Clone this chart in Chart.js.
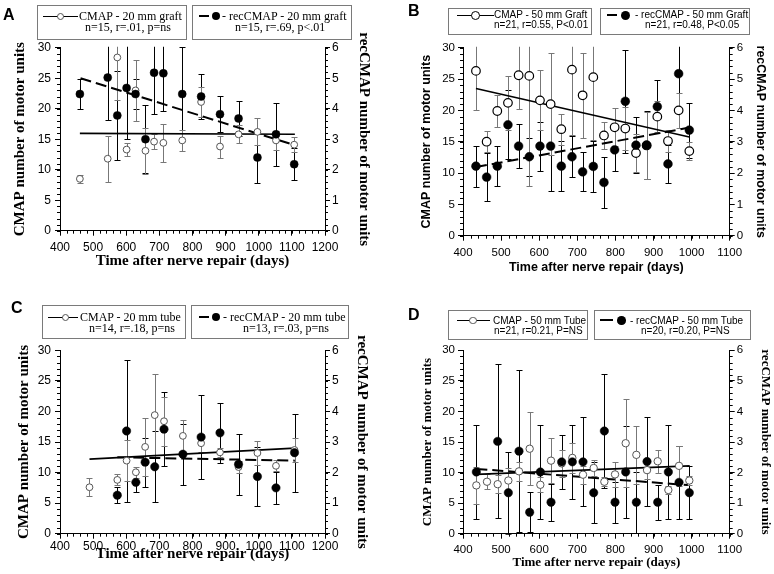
<!DOCTYPE html>
<html><head><meta charset="utf-8">
<script src="https://cdn.jsdelivr.net/npm/chart.js@4.4.1/dist/chart.umd.min.js"></script>
<style>
html,body{margin:0;padding:0;background:#fff;}
#wrap{position:relative;width:774px;height:574px;overflow:hidden;background:#fff;}
canvas{position:absolute;}
.box{position:absolute;border:1px solid #7a7a7a;box-sizing:border-box;background:#fff;}
.t{position:absolute;white-space:nowrap;color:#000;}
.serif{font-family:"Liberation Serif","Times New Roman",serif;font-size:12px;line-height:14px;}
.sans{font-family:"Liberation Sans",Arial,sans-serif;font-size:10px;line-height:12px;}
.letter{position:absolute;font-family:"Liberation Sans",Arial,sans-serif;font-weight:bold;font-size:16px;line-height:16px;color:#000;}
.ln{position:absolute;background:#000;}
.dot{position:absolute;border-radius:50%;box-sizing:border-box;}
</style></head>
<body><div id="wrap">
<canvas id="cA" width="387" height="287" style="left:0;top:0"></canvas>
<canvas id="cB" width="387" height="287" style="left:387px;top:0"></canvas>
<canvas id="cC" width="387" height="287" style="left:0;top:287px"></canvas>
<canvas id="cD" width="387" height="287" style="left:387px;top:287px"></canvas>

<div class="letter" style="left:3px;top:7px">A</div>
<div class="letter" style="left:408px;top:3px">B</div>
<div class="letter" style="left:11px;top:300px">C</div>
<div class="letter" style="left:408px;top:307px">D</div>

<!-- A legend -->
<div class="box" style="left:37px;top:5px;width:150px;height:35px"></div>
<div class="box" style="left:192px;top:5px;width:160px;height:35px"></div>
<div class="ln" style="left:43px;top:15.5px;width:35px;height:1.3px"></div>
<div class="dot" style="left:56.5px;top:12.5px;width:7px;height:7px;border:1px solid #555;background:#fff"></div>
<div class="t serif" style="left:79px;top:8.6px">CMAP - 20 mm graft</div>
<div class="t serif" style="left:85px;top:20.3px">n=15, r=.01, p=ns</div>
<div class="ln" style="left:199px;top:15px;width:10px;height:2px"></div>
<div class="dot" style="left:212px;top:12px;width:8px;height:8px;background:#000"></div>
<div class="t serif" style="left:222px;top:8.6px">- recCMAP - 20 mm graft</div>
<div class="t serif" style="left:235px;top:20.3px">n=15, r=.69, p&lt;.01</div>

<!-- B legend -->
<div class="box" style="left:448px;top:8px;width:144px;height:27px"></div>
<div class="box" style="left:600px;top:8px;width:150px;height:27px"></div>
<div class="ln" style="left:457px;top:14.5px;width:37px;height:1.3px"></div>
<div class="dot" style="left:471px;top:10.5px;width:9px;height:9px;border:1.2px solid #000;background:#fff"></div>
<div class="t sans" style="left:494px;top:9.4px">CMAP - 50 mm Graft</div>
<div class="t sans" style="left:494px;top:18.8px">n=21, r=0.55, P&lt;0.01</div>
<div class="ln" style="left:607px;top:14px;width:10px;height:2px"></div>
<div class="dot" style="left:621px;top:10.5px;width:9px;height:9px;background:#000"></div>
<div class="t sans" style="left:635px;top:9.4px">- recCMAP - 50 mm Graft</div>
<div class="t sans" style="left:645px;top:18.8px">n=21, r=0.48, P&lt;0.05</div>

<!-- C legend -->
<div class="box" style="left:42px;top:305px;width:144px;height:34px"></div>
<div class="box" style="left:191px;top:305px;width:158px;height:34px"></div>
<div class="ln" style="left:48px;top:316.5px;width:30px;height:1.3px"></div>
<div class="dot" style="left:61.5px;top:313.5px;width:7px;height:7px;border:1px solid #555;background:#fff"></div>
<div class="t serif" style="left:80px;top:309.9px">CMAP - 20 mm tube</div>
<div class="t serif" style="left:89px;top:321.2px">n=14, r=.18, p=ns</div>
<div class="ln" style="left:199px;top:316px;width:10px;height:2px"></div>
<div class="dot" style="left:212px;top:313px;width:8px;height:8px;background:#000"></div>
<div class="t serif" style="left:223px;top:309.9px">- recCMAP - 20 mm tube</div>
<div class="t serif" style="left:243px;top:321.2px">n=13, r=.03, p=ns</div>

<!-- D legend -->
<div class="box" style="left:448px;top:310px;width:140px;height:30px"></div>
<div class="box" style="left:594px;top:310px;width:157px;height:30px"></div>
<div class="ln" style="left:457px;top:319.7px;width:33px;height:1.3px"></div>
<div class="dot" style="left:469.3px;top:316.5px;width:7.5px;height:7.5px;border:1px solid #555;background:#fff"></div>
<div class="t sans" style="left:493px;top:314.7px">CMAP - 50 mm Tube</div>
<div class="t sans" style="left:494px;top:324.5px">n=21, r=0.21, P=NS</div>
<div class="ln" style="left:600px;top:319.3px;width:13px;height:2px"></div>
<div class="dot" style="left:617px;top:316px;width:8.5px;height:8.5px;background:#000"></div>
<div class="t sans" style="left:630px;top:314.7px">- recCMAP - 50 mm Tube</div>
<div class="t sans" style="left:641px;top:324.5px">n=20, r=0.20, P=NS</div>
</div>

<script>
// ===== Data =====
// Panel A: 20 mm graft
const aDays      = [460, 544, 573, 601, 628, 658, 684, 712, 769, 826, 883, 939, 996, 1052, 1107];
const aCmap      = [8.5, 11.8, 28.4, 13.3, 23.0, 13.1, 14.6, 14.4, 14.8, 21.1, 13.8, 15.8, 16.2, 14.8, 14.1];
const aCmapErr   = [0.6, 3.8, 7.0, 1.0, 5.0, 3.8, 1.2, 3.1, 1.7, 2.5, 1.8, 1.5, 2.2, 1.5, 1.2];
const aRec       = [4.48, 5.02, 3.78, 4.68, 4.48, 3.0, 5.18, 5.16, 4.48, 4.4, 3.82, 3.68, 2.4, 3.16, 2.18];
const aRecErr    = [0.48, 1.4, 1.46, 1.68, 0.5, 1.12, 1.34, 1.24, 1.55, 0.74, 0.6, 0.58, 0.82, 1.04, 0.52];
const aFitCmapDays = [460, 1109];
const aFitCmap     = [15.95, 15.8];
const aFitRecDays  = [462, 1110];
const aFitRec      = [5.0, 2.8];

// Panel B: 50 mm graft
const bDays      = [434, 462, 490, 518, 546, 574, 602, 630, 658, 686, 714, 742, 770, 798, 826, 854, 882, 910, 938, 966, 994];
const bCmap      = [26.3, 15.0, 19.9, 21.2, 25.6, 25.5, 21.6, 21.0, 17.0, 26.5, 22.4, 25.3, 16.0, 17.3, 17.1, 13.2, 14.4, 19.0, 15.1, 20.0, 13.5];
const bCmapErr   = [6.3, 1.7, 2.6, 4.3, 5.4, 17.5, 4.8, 8.2, 2.5, 10.5, 6.8, 10, 2.2, 3.0, 3.5, 3.0, 5.4, 2.5, 1.8, 2.8, 1.4];
const bRec       = [2.22, 1.87, 2.22, 3.54, 2.86, 2.52, 2.86, 2.86, 2.22, 2.52, 2.04, 2.21, 1.70, 2.74, 4.29, 2.89, 2.89, 4.12, 2.29, 5.17, 3.37];
const bRecErr    = [0.65, 0.77, 0.64, 1.1, 0.71, 0.6, 0.78, 1.44, 0.8, 0.66, 0.62, 0.8, 0.8, 0.67, 1.64, 0.9, 1.08, 0.84, 0.6, 1.2, 0.88];
const bFitCmapDays = [434, 994];
const bFitCmap     = [23.5, 15.76];
const bFitRecDays  = [434, 994];
const bFitRec      = [2.19, 3.45];

// Panel C: 20 mm tube
const cCmapDays  = [489, 573, 601, 629, 657, 686, 714, 771, 826, 883, 939, 996, 1052, 1108];
const cCmap      = [7.6, 8.8, 11.95, 10.05, 14.2, 19.4, 18.4, 16.0, 14.8, 13.3, 10.9, 13.2, 11.1, 13.7];
const cCmapErr   = [1.45, 0.9, 3.4, 0.9, 4.7, 6.8, 4.0, 2.6, 1.5, 0.8, 1.0, 2.0, 0.9, 1.9];
const cRecDays   = [573, 601, 629, 657, 686, 714, 771, 826, 883, 939, 996, 1052, 1108];
const cRec       = [1.26, 3.36, 1.68, 2.34, 2.19, 3.42, 2.6, 3.16, 3.3, 2.27, 1.87, 1.5, 2.65];
const cRecErr    = [0.26, 2.33, 0.33, 0.8, 1.16, 1.22, 1.0, 1.38, 0.98, 1.0, 0.97, 0.52, 1.28];
const cFitCmapDays = [489, 1109];
const cFitCmap     = [12.2, 14.0];
const cFitRecDays  = [573, 1109];
const cFitRec      = [2.5, 2.39];

// Panel D: 50 mm tube
const dCmapDays  = [435, 463, 491, 519, 547, 575, 603, 631, 659, 687, 715, 743, 771, 799, 827, 855, 883, 911, 939, 967, 994];
const dCmap      = [7.9, 8.5, 8.1, 8.7, 10.2, 13.9, 8.0, 11.95, 11.5, 12.4, 9.65, 10.75, 8.5, 9.7, 14.8, 12.9, 10.4, 11.85, 7.15, 11.1, 8.7];
const dCmapErr   = [3.0, 1.2, 1.5, 2.0, 1.6, 6.0, 1.2, 3.7, 2.2, 2.4, 1.5, 1.3, 0.7, 2.0, 7.2, 4.7, 1.5, 1.9, 0.6, 3.3, 0.8];
const dRecDays   = [435, 491, 519, 547, 575, 603, 631, 659, 687, 715, 743, 771, 799, 827, 855, 883, 911, 939, 967, 994];
const dRec       = [2.02, 3.02, 1.34, 2.7, 0.7, 2.02, 1.03, 2.35, 2.35, 2.35, 1.34, 3.36, 1.03, 2.02, 1.03, 2.36, 1.03, 2.02, 1.68, 1.34];
const dRecErr    = [1.53, 2.52, 1.34, 2.66, 0.66, 1.53, 0.6, 0.89, 1.2, 1.46, 1.0, 1.87, 0.67, 1.5, 1.0, 1.46, 0.57, 1.53, 1.2, 0.86];
const dFitCmapDays = [435, 995];
const dFitCmap     = [9.7, 11.1];
const dFitRecDays  = [435, 990];
const dFitRec      = [2.12, 1.59];

// Axis labels
const xTitle = 'Time after nerve repair (days)';
const yTitle = 'CMAP number of motor units';
const y1Title = 'recCMAP number of motor units';

// ===== Plugins =====
const errorBars = {
  id: 'errorBars',
  beforeDatasetsDraw(chart) {
    const {ctx, chartArea: ca} = chart;
    ctx.save();
    ctx.beginPath();
    ctx.rect(ca.left, ca.top - 1, ca.right - ca.left, ca.bottom - ca.top + 2);
    ctx.clip();
    chart.data.datasets.forEach((ds, i) => {
      if (!ds.errors) return;
      const meta = chart.getDatasetMeta(i);
      const ys = chart.scales[ds.yAxisID];
      ctx.strokeStyle = ds.errColor;
      ctx.lineWidth = 1;
      ds.data.forEach((p, j) => {
        const e = ds.errors[j];
        const x = Math.round(meta.data[j].x) + 0.5;
        const yT = Math.round(ys.getPixelForValue(p.y + e)) + 0.5;
        const yB = Math.round(ys.getPixelForValue(p.y - e)) + 0.5;
        ctx.beginPath();
        ctx.moveTo(x, yT); ctx.lineTo(x, yB);
        ctx.moveTo(x - 3, yT); ctx.lineTo(x + 3, yT);
        ctx.moveTo(x - 3, yB); ctx.lineTo(x + 3, yB);
        ctx.stroke();
      });
    });
    ctx.restore();
  }
};

const minorTicks = {
  id: 'minorTicks',
  afterDraw(chart) {
    const {ctx, chartArea: ca, scales} = chart;
    ctx.save();
    ctx.strokeStyle = '#000';
    ctx.lineWidth = 1;
    ctx.beginPath();
    const x = scales.x;
    for (let v = x.min; v <= x.max + 1e-6; v += 20) {
      const px = Math.round(x.getPixelForValue(v)) + 0.5;
      ctx.moveTo(px, ca.bottom); ctx.lineTo(px, ca.bottom + 3);
    }
    const y = scales.y;
    for (let v = y.min; v <= y.max + 1e-6; v += 1) {
      const py = Math.round(y.getPixelForValue(v)) + 0.5;
      ctx.moveTo(ca.left, py); ctx.lineTo(ca.left - 3, py);
    }
    const y1 = scales.y1;
    for (let v = y1.min; v <= y1.max + 1e-6; v += 0.2) {
      const py = Math.round(y1.getPixelForValue(v)) + 0.5;
      ctx.moveTo(ca.right, py); ctx.lineTo(ca.right + 3, py);
    }
    ctx.stroke();
    ctx.restore();
  }
};

const SERIF = '"Liberation Serif","Times New Roman",serif';
const SANS = '"Liberation Sans",Arial,Helvetica,sans-serif';
const plain = v => String(v);

function pts(xs, ys) { return xs.map((d, i) => ({x: d, y: ys[i]})); }

function buildPanel(id, D, L) {
  const W = 387, H = 287;
  const half = L.tSize * 1.2 / 2;
  const padL = L.tLeft - half;
  const padR = W - (L.tRight + half);
  const padB = H - (L.tBottom + half);
  const wL = L.area.l - padL;
  const wR = (W - padR) - L.area.r;
  const hX = (H - padB) - L.area.b;
  const titleFont = {family: L.tFamily, size: L.tSize, weight: 'bold', lineHeight: 1.2};
  const tickFont = {family: SANS, size: L.tickSize};
  const axisCommon = {
    grid: {drawOnChartArea: false, drawTicks: true, tickLength: 5, color: '#000', lineWidth: 1},
    border: {display: true, color: '#000', width: 1}
  };
  new Chart(document.getElementById(id), {
    type: 'scatter',
    data: {
      datasets: [
        {data: pts(D.recDays, D.rec), yAxisID: 'y1', errors: D.recErr, errColor: '#000',
         pointRadius: L.fillR, pointBackgroundColor: '#000', pointBorderColor: '#000', pointBorderWidth: 0.5, showLine: false},
        {data: pts(D.cmapDays, D.cmap), yAxisID: 'y', errors: D.cmapErr, errColor: '#777',
         pointRadius: L.openR, pointBackgroundColor: '#fff', pointBorderColor: L.openColor, pointBorderWidth: L.openW, showLine: false},
        {data: pts(D.fitCmapDays, D.fitCmap), yAxisID: 'y', showLine: true, pointRadius: 0,
         borderColor: '#000', borderWidth: 1.6, fill: false},
        {data: pts(D.fitRecDays, D.fitRec), yAxisID: 'y1', showLine: true, pointRadius: 0,
         borderColor: '#000', borderWidth: 2, borderDash: [11, 5], fill: false}
      ]
    },
    options: {
      responsive: false, animation: false, events: [],
      layout: {padding: {left: padL, right: padR, top: L.area.t, bottom: padB}},
      plugins: {legend: {display: false}, tooltip: {enabled: false}},
      scales: {
        x: Object.assign({}, axisCommon, {
          type: 'linear', position: 'bottom', min: 400, max: L.xMax,
          ticks: {stepSize: 100, font: tickFont, color: '#000', padding: L.xPad, maxRotation: 0, autoSkip: false, callback: plain},
          title: {display: true, text: xTitle, font: titleFont, color: '#000', padding: 0},
          afterFit: s => { s.height = hX; }
        }),
        y: Object.assign({}, axisCommon, {
          type: 'linear', position: 'left', min: 0, max: 30,
          ticks: {stepSize: 5, font: tickFont, color: '#000', padding: L.yPad, callback: plain},
          title: {display: true, text: yTitle, font: titleFont, color: '#000', padding: 0},
          afterFit: s => { s.width = wL; }
        }),
        y1: Object.assign({}, axisCommon, {
          type: 'linear', position: 'right', min: 0, max: 6,
          ticks: {stepSize: 1, font: tickFont, color: '#000', padding: L.y1Pad, callback: plain},
          title: {display: true, text: y1Title, font: titleFont, color: '#000', padding: 0},
          afterFit: s => { s.width = wR; }
        })
      }
    },
    plugins: [errorBars, minorTicks]
  });
}

buildPanel('cA',
  {cmapDays: aDays, cmap: aCmap, cmapErr: aCmapErr, recDays: aDays, rec: aRec, recErr: aRecErr,
   fitCmapDays: aFitCmapDays, fitCmap: aFitCmap, fitRecDays: aFitRecDays, fitRec: aFitRec},
  {area: {l: 60, r: 325, t: 47.7, b: 230.7}, tLeft: 20, tRight: 363.7, tBottom: 261, tSize: 15, tFamily: SERIF,
   tickSize: 12, xPad: 5, yPad: 4, y1Pad: 2, xMax: 1200, openR: 3.4, openColor: '#555', openW: 1, fillR: 4});

buildPanel('cB',
  {cmapDays: bDays, cmap: bCmap, cmapErr: bCmapErr, recDays: bDays, rec: bRec, recErr: bRecErr,
   fitCmapDays: bFitCmapDays, fitCmap: bFitCmap, fitRecDays: bFitRecDays, fitRec: bFitRec},
  {area: {l: 76, r: 342.7, t: 47.7, b: 235.7}, tLeft: 40, tRight: 373.3, tBottom: 267.5, tSize: 12.5, tFamily: SANS,
   tickSize: 11.5, xPad: 5, yPad: 3, y1Pad: 2, xMax: 1100, openR: 4.3, openColor: '#000', openW: 1.2, fillR: 4.4});

buildPanel('cC',
  {cmapDays: cCmapDays, cmap: cCmap, cmapErr: cCmapErr, recDays: cRecDays, rec: cRec, recErr: cRecErr,
   fitCmapDays: cFitCmapDays, fitCmap: cFitCmap, fitRecDays: cFitRecDays, fitRec: cFitRec},
  {area: {l: 60, r: 325, t: 63.3, b: 246.7}, tLeft: 24, tRight: 361.7, tBottom: 267, tSize: 15, tFamily: SERIF,
   tickSize: 12, xPad: 1, yPad: 4, y1Pad: 2, xMax: 1200, openR: 3.4, openColor: '#555', openW: 1, fillR: 4.2});

buildPanel('cD',
  {cmapDays: dCmapDays, cmap: dCmap, cmapErr: dCmapErr, recDays: dRecDays, rec: dRec, recErr: dRecErr,
   fitCmapDays: dFitCmapDays, fitCmap: dFitCmap, fitRecDays: dFitRecDays, fitRec: dFitRec},
  {area: {l: 76, r: 342.7, t: 63.3, b: 246.7}, tLeft: 40.5, tRight: 378.7, tBottom: 276, tSize: 13, tFamily: SERIF,
   tickSize: 11.5, xPad: 4, yPad: 3, y1Pad: 2, xMax: 1100, openR: 3.7, openColor: '#555', openW: 1, fillR: 4.2});
</script>
</body></html>
